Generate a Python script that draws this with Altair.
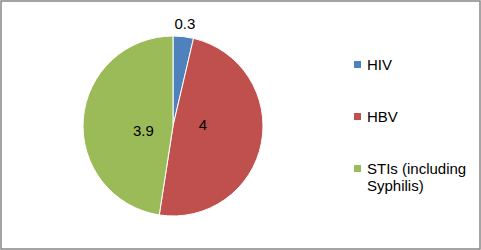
import altair as alt
import pandas as pd

categories = ["HIV", "HBV", "STIs (including Syphilis)"]
values = [0.3, 4, 3.9]
labels = ["0.3", "4", "3.9"]
colors = ["#4F81BD", "#C0504D", "#9BBB59"]

df = pd.DataFrame({"category": categories, "value": values, "label": labels,
                   "order": list(range(len(categories)))})

FONT = "Liberation Sans"

color = alt.Color(
    "category:N",
    sort=categories,
    scale=alt.Scale(domain=categories, range=colors),
    legend=alt.Legend(
        title=None,
        orient="none",
        legendX=349,
        legendY=56,
        symbolType="square",
        symbolSize=49,
        symbolStrokeWidth=0,
        labelFont=FONT,
        labelFontSize=15,
        labelColor="#000000",
        labelOffset=2,
        rowPadding=36,
        labelLimit=200,
        labelExpr="datum.label == 'STIs (including Syphilis)' ? ['STIs (including', 'Syphilis)'] : datum.label",
    ),
)

base = alt.Chart(df).encode(
    theta=alt.Theta("value:Q", stack=True),
    order=alt.Order("order:Q"),
)

pie = base.mark_arc(radius=90, stroke="white", strokeWidth=1).encode(
    color=color,
    x=alt.value(172),
    y=alt.value(125),
)

text = base.transform_calculate(
    r="datum.value < 1 ? 103 : 30"
).mark_text(font=FONT, fontSize=15, color="#000000").encode(
    text="label:N",
    radius=alt.Radius("r:Q", scale=None),
    x=alt.value(172),
    y=alt.value(125),
)

chart = (pie + text).properties(
    width=479,
    height=248,
    padding={"left": 1, "top": 1, "right": 1, "bottom": 1},
    autosize=alt.AutoSizeParams(type="none"),
    background="white",
).configure_view(stroke="#878787", strokeWidth=1.5)

chart.save("out.html", embed_options={"renderer": "svg", "actions": False})
